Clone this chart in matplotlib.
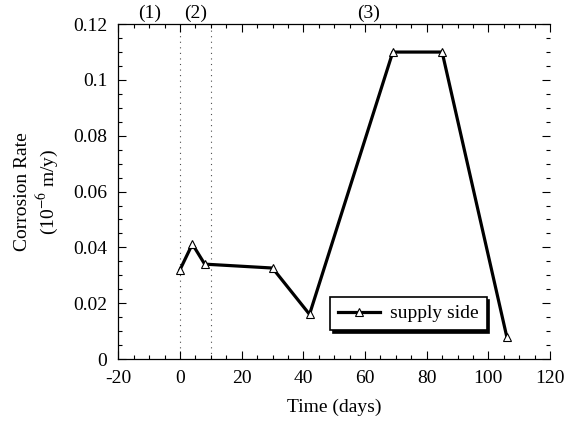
import matplotlib
matplotlib.use("Agg")
import matplotlib.pyplot as plt
from matplotlib.ticker import MultipleLocator

plt.rcParams['font.family'] = ['Liberation Serif', 'DejaVu Serif']
plt.rcParams['mathtext.fontset'] = 'stix'
plt.rcParams['axes.unicode_minus'] = False

days = [0, 4, 8, 30, 42, 69, 85, 106]
rate = [0.032, 0.0412, 0.034, 0.0326, 0.016, 0.11, 0.11, 0.0078]
series_label = "supply side"
phase_lines = [0, 10]
phase_labels = ["(1)", "(2)", "(3)"]
phase_label_x = [-10, 5, 61]
xticks = [-20, 0, 20, 40, 60, 80, 100, 120]
yticks = [0, 0.02, 0.04, 0.06, 0.08, 0.1, 0.12]
ytick_labels = ["0", "0.02", "0.04", "0.06", "0.08", "0.1", "0.12"]

fig = plt.figure(figsize=(5.69, 4.36), dpi=100)
ax = fig.add_axes([0.208, 0.1766, 0.7587, 0.768])

ax.plot(days, rate, color='black', lw=2.3, marker='^', markersize=6,
        markerfacecolor='white', markeredgecolor='black', markeredgewidth=0.8,
        label=series_label, zorder=3)

for xv in phase_lines:
    ax.axvline(xv, color='black', lw=0.8, ls=(0, (1, 4)), alpha=0.7, zorder=1)

for lab, xv in zip(phase_labels, phase_label_x):
    ax.text(xv, 1.005, lab, transform=ax.get_xaxis_transform(), ha='center',
            va='bottom', fontsize=14)

ax.set_xlim(-20, 120)
ax.set_ylim(0, 0.12)
ax.set_xticks(xticks)
ax.set_yticks(yticks)
ax.set_yticklabels(ytick_labels)
ax.xaxis.set_minor_locator(MultipleLocator(5))
ax.yaxis.set_minor_locator(MultipleLocator(0.005))
ax.tick_params(which='both', direction='in', top=True, right=True, labelsize=14,
               width=0.8)
ax.tick_params(which='major', length=6)
ax.tick_params(which='minor', length=3)
ax.tick_params(axis='x', pad=8)
ax.tick_params(axis='y', pad=8)
ax.spines['right'].set_visible(False)
for s in ['left', 'top', 'bottom']:
    ax.spines[s].set_linewidth(0.9)

ax.set_xlabel("Time (days)", fontsize=14, labelpad=8)
ax.set_ylabel("Corrosion Rate\n(10$^{-6}$ m/y)", fontsize=14, labelpad=9)

leg = ax.legend(loc='lower left', bbox_to_anchor=(0.49, 0.086), fancybox=False,
                shadow={'color': 'black', 'alpha': 1}, edgecolor='black',
                framealpha=1, fontsize=14, handlelength=2.2, handletextpad=0.5,
                borderpad=0.4, borderaxespad=0)
leg.get_frame().set_linewidth(1.2)

fig.savefig("out.png", dpi=100)
